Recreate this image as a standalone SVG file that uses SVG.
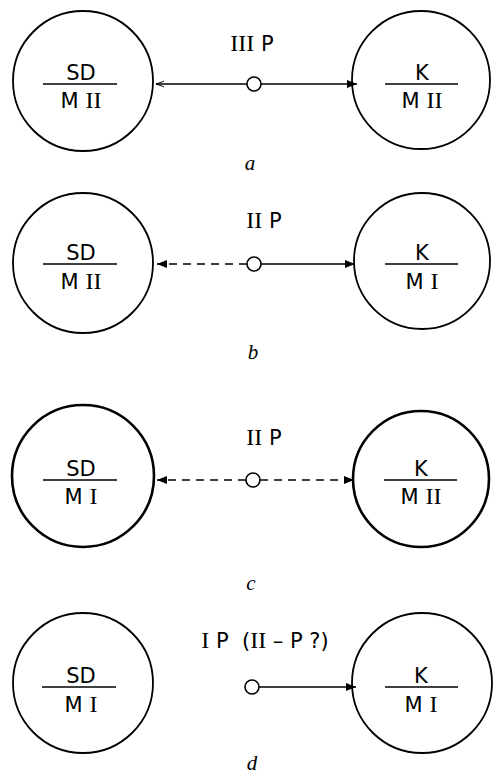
<svg xmlns="http://www.w3.org/2000/svg" width="494" height="774" viewBox="0 0 494 774">
<defs>
<marker id="ah" viewBox="0 0 10 10" refX="10" refY="5" markerWidth="10" markerHeight="10" markerUnits="userSpaceOnUse" orient="auto">
<path d="M0,1 L10,5 L0,9 Z" fill="#000"/>
</marker>
<marker id="ao" viewBox="0 0 10 10" refX="10" refY="5" markerWidth="8" markerHeight="8" markerUnits="userSpaceOnUse" orient="auto">
<path d="M0,1.5 L10,5 L0,8.5" fill="none" stroke="#000" stroke-width="1.2"/>
</marker>
</defs>
<style>
.big{fill:#fff;stroke:#000;stroke-width:1.8}
.thick{stroke-width:2.6}
.frac{stroke:#000;stroke-width:1.5}
.t{font-family:"DejaVu Sans","Liberation Sans",sans-serif;font-size:21px;fill:#000;text-anchor:middle}
.r{font-family:"Liberation Serif","DejaVu Serif",serif;font-size:24px}
.cap{font-family:"Liberation Serif","DejaVu Serif",serif;font-style:italic;font-size:21px;fill:#000;text-anchor:middle}
.ln{stroke:#000;stroke-width:1.6;fill:none}
.dash{stroke-dasharray:8,6}
.dot{fill:#fff;stroke:#000;stroke-width:1.6}
</style>
<rect width="494" height="774" fill="#fff"/>

<!-- panel a -->
<g id="a-sd"><circle class="big" cx="83" cy="81" r="70"/><line class="frac" x1="43" y1="84" x2="117" y2="84"/><text class="t" x="81" y="80">SD</text><text class="t" x="81" y="108">M <tspan class="r">II</tspan></text></g>
<g id="a-k"><circle class="big" cx="421" cy="80" r="69"/><line class="frac" x1="385" y1="84" x2="458" y2="84"/><text class="t" x="422" y="80">K</text><text class="t" x="422" y="108">M <tspan class="r">II</tspan></text></g>
<g id="a-p"><text class="t" x="252" y="51"><tspan class="r">III</tspan> P</text></g>
<g id="a-conn"><line class="ln" x1="247" y1="84" x2="156" y2="84" marker-end="url(#ao)"/><line class="ln" x1="261" y1="84" x2="357" y2="84" marker-end="url(#ah)"/><circle class="dot" cx="254" cy="84" r="7"/></g>
<text class="cap" x="250" y="170">a</text>

<!-- panel b -->
<g id="b-sd"><circle class="big" cx="83" cy="263" r="70"/><line class="frac" x1="43" y1="264" x2="117" y2="264"/><text class="t" x="81" y="260">SD</text><text class="t" x="81" y="289">M <tspan class="r">II</tspan></text></g>
<g id="b-k"><circle class="big" cx="422" cy="261" r="68"/><line class="frac" x1="385" y1="264" x2="458" y2="264"/><text class="t" x="422" y="260">K</text><text class="t" x="422" y="289">M <tspan class="r">I</tspan></text></g>
<g id="b-p"><text class="t" x="264" y="228"><tspan class="r">II</tspan> P</text></g>
<g id="b-conn"><line class="ln dash" x1="247" y1="264" x2="157" y2="264" marker-end="url(#ah)"/><line class="ln" x1="261" y1="264" x2="355" y2="264" marker-end="url(#ah)"/><circle class="dot" cx="254" cy="264" r="7"/></g>
<text class="cap" x="253" y="359">b</text>

<!-- panel c -->
<g id="c-sd"><circle class="big thick" cx="83" cy="476" r="71"/><line class="frac" x1="43" y1="480" x2="117" y2="480"/><text class="t" x="81" y="476">SD</text><text class="t" x="81" y="504">M <tspan class="r">I</tspan></text></g>
<g id="c-k"><circle class="big thick" cx="421" cy="479" r="68"/><line class="frac" x1="384" y1="480" x2="457" y2="480"/><text class="t" x="421" y="476">K</text><text class="t" x="421" y="504">M <tspan class="r">II</tspan></text></g>
<g id="c-p"><text class="t" x="264" y="445"><tspan class="r">II</tspan> P</text></g>
<g id="c-conn"><line class="ln dash" x1="246" y1="480" x2="157" y2="480" marker-end="url(#ah)"/><line class="ln dash" x1="260" y1="480" x2="354" y2="480" marker-end="url(#ah)"/><circle class="dot" cx="253" cy="480" r="7"/></g>
<text class="cap" x="251" y="590">c</text>

<!-- panel d -->
<g id="d-sd"><circle class="big" cx="83" cy="683" r="70"/><line class="frac" x1="42" y1="687" x2="116" y2="687"/><text class="t" x="81" y="683">SD</text><text class="t" x="81" y="712">M <tspan class="r">I</tspan></text></g>
<g id="d-k"><circle class="big" cx="422" cy="683" r="70"/><line class="frac" x1="385" y1="687" x2="458" y2="687"/><text class="t" x="421" y="683">K</text><text class="t" x="421" y="712">M <tspan class="r">I</tspan></text></g>
<g id="d-p"><text class="t" x="265" y="648" xml:space="preserve"><tspan class="r">I</tspan> P  (<tspan class="r">II</tspan> – P ?)</text></g>
<g id="d-conn"><line class="ln" x1="259" y1="687" x2="356" y2="687" marker-end="url(#ah)"/><circle class="dot" cx="252" cy="687" r="7"/></g>
<text class="cap" x="252" y="770">d</text>
</svg>
